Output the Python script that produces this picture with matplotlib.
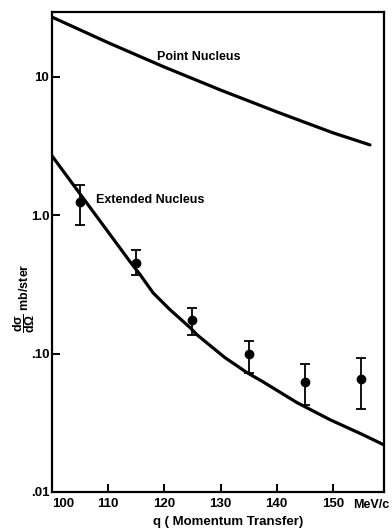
import matplotlib
matplotlib.use("Agg")
import matplotlib.pyplot as plt

plt.rcParams['font.family'] = ['Liberation Sans', 'DejaVu Sans']
plt.rcParams['mathtext.fontset'] = 'custom'
plt.rcParams['mathtext.rm'] = 'Liberation Sans:bold'
plt.rcParams['mathtext.it'] = 'Liberation Sans:bold'
plt.rcParams['mathtext.bf'] = 'Liberation Sans:bold'

# Point nucleus curve
point_q = [100, 110, 120, 130, 140, 150, 156.6]
point_sigma = [27.1, 17.7, 11.8, 8.05, 5.6, 3.95, 3.23]

# Extended nucleus curve
ext_q = [100, 113.9, 115.7, 118.0, 121.0, 124.6, 125.8, 130.8, 134.7, 137.5, 143.6, 149.5, 155.3, 159.3]
ext_sigma = [2.69, 0.462, 0.372, 0.275, 0.208, 0.154, 0.137, 0.0935, 0.073, 0.0628, 0.0443, 0.0333, 0.026, 0.0217]

# Measured points
data_q = [105, 115, 125, 135, 145, 155]
data_sigma = [1.25, 0.454, 0.176, 0.100, 0.0628, 0.066]
data_hi = [1.66, 0.563, 0.215, 0.124, 0.0848, 0.0935]
data_lo = [0.854, 0.372, 0.137, 0.073, 0.0422, 0.040]

x_ticks = [100, 110, 120, 130, 140, 150]
x_ticklabels = ['100', '110', '120', '130', '140', '150']
y_ticks = [0.01, 0.1, 1.0, 10]
y_ticklabels = ['.01', '.10', '1.0', '10']

fig = plt.figure(figsize=(3.92, 5.31), dpi=100)
ax = fig.add_axes([52/392, 1 - 492/531, (384 - 52)/392, (492 - 12)/531])

ax.plot(point_q, point_sigma, color='black', lw=2.3, solid_capstyle='round')
ax.plot(ext_q, ext_sigma, color='black', lw=2.3, solid_capstyle='round')

yerr_lo = [v - lo for v, lo in zip(data_sigma, data_lo)]
yerr_hi = [hi - v for v, hi in zip(data_sigma, data_hi)]
ax.errorbar(data_q, data_sigma, yerr=[yerr_lo, yerr_hi], fmt='o', color='black',
            markersize=6, elinewidth=1.3, capsize=3.5, capthick=1.3)

ax.set_yscale('log')
ax.set_xlim(100, 159.1)
ax.set_ylim(0.01, 29.5)

ax.set_xticks(x_ticks)
ax.set_xticklabels(x_ticklabels, fontweight='bold', fontsize=9.5)
ax.set_yticks(y_ticks)
ax.set_yticklabels(y_ticklabels, fontweight='bold', fontsize=9.5)
ax.minorticks_off()
ax.tick_params(axis='both', direction='in', length=6, width=1.4)
ax.tick_params(axis='x', pad=4)
ax.tick_params(axis='y', pad=2)
ax.get_xticklabels()[0].set_horizontalalignment('left')

for s in ax.spines.values():
    s.set_linewidth(1.6)

ax.text(118.7, 13.9, 'Point Nucleus', fontsize=9, fontweight='bold', va='center', ha='left')
ax.text(107.8, 1.29, 'Extended Nucleus', fontsize=9, fontweight='bold', va='center', ha='left')

fig.text(371/392, 1 - 505/531, 'MeV/c', fontsize=9, fontweight='bold', ha='center', va='center')
fig.text(228/392, 1 - 522/531, 'q ( Momentum Transfer)', fontsize=9.5, fontweight='bold',
         ha='center', va='center')
fig.text(24/392, 1 - 298/531, r'$\dfrac{d\sigma}{d\Omega}$ mb/ster', fontsize=9, fontweight='bold',
         rotation=90, ha='center', va='center')

fig.savefig('out.png', dpi=100)
